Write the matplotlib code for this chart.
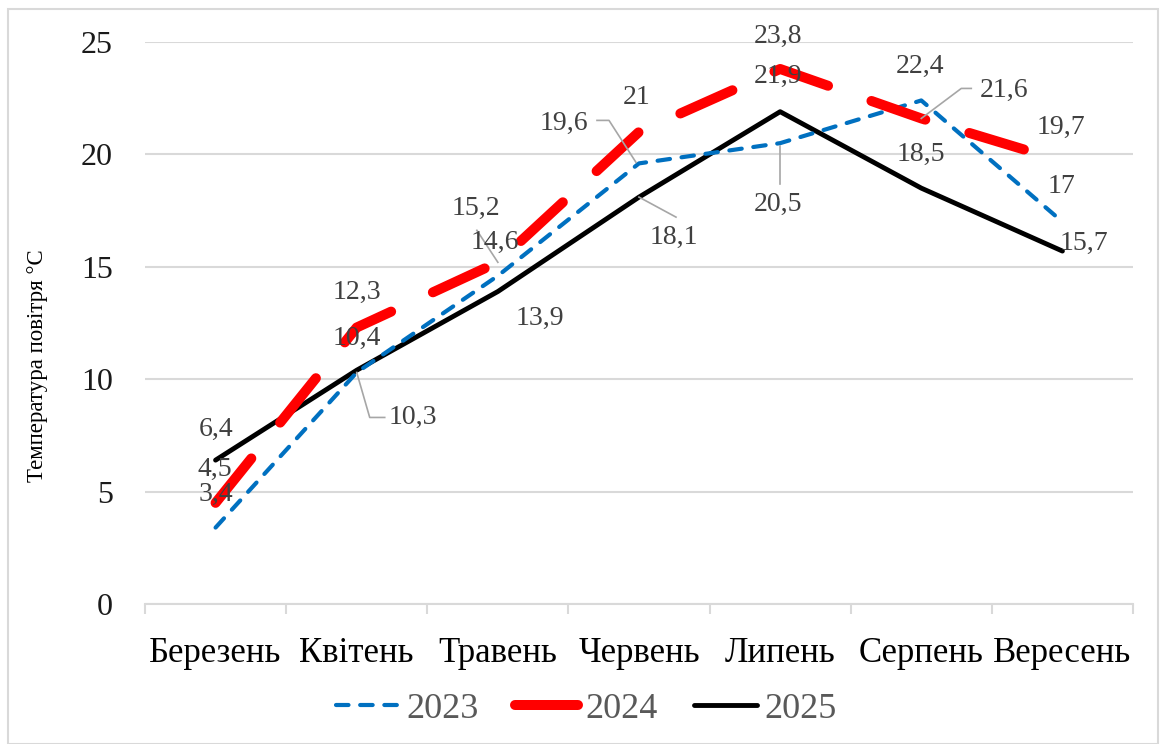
import matplotlib
matplotlib.use("Agg")
import matplotlib.pyplot as plt
from matplotlib.lines import Line2D
from matplotlib.patches import Rectangle
from matplotlib.transforms import IdentityTransform
import numpy as np

plt.rcParams['font.family'] = ['Liberation Serif', 'DejaVu Serif']

months = ["Березень", "Квітень", "Травень", "Червень", "Липень", "Серпень", "Вересень"]
series_names = ["2023", "2024", "2025"]
t2023 = [3.4, 10.3, 14.6, 19.6, 20.5, 22.4, 17]
t2024 = [4.5, 12.3, 15.2, 21, 23.8, 21.6, 19.7]
t2025 = [6.4, 10.4, 13.9, 18.1, 21.9, 18.5, 15.7]
y_ticks = [0, 5, 10, 15, 20, 25]
y_label = "Температура повітря °C"

def fmt(v):
    return ("%g" % v).replace(".", ",")

# label offsets in pixels (dx right, dy down) from data point
off2023 = [(0, -33), (56, 45), (-3, -33), (-75, -40), (-2, 61), (-1, -34), (-1, -35)]
off2024 = [(-1, -33), (0, -35), (-22, -54), (-2, -34), (-2, -33), (83, -28), (-2, -34)]
off2025 = [(0, -31), (0, -32), (42, 27), (35, 40), (-2, -35), (0, -34), (21, -8)]
# leader polylines (pixel offsets from data point), None if none
lead2023 = [None, [(0, 0), (13, 45), (28, 45)], None, [(-3, -1), (-30, -43), (-42, -43)],
            [(0, 3), (0, 41)], None, None]
lead2024 = [None, None, [(0, 0), (-21, -32)], None, None, [(0, 0), (40, -30), (50, -30)], None]
lead2025 = [None, None, None, [(0, 0), (37, 20)], None, None, None]

W, H = 1161, 744
fig = plt.figure(figsize=(W / 100, H / 100), dpi=100)
ax = fig.add_axes([145 / W, 1 - 604 / H, (1133 - 145) / W, (604 - 42) / H])

x = np.arange(len(months))
blue_style = dict(color="#0070C0", lw=3.0, linestyle=(0, (3, 2.8)), dash_capstyle="round")
l1, = ax.plot(x, t2023, label=series_names[0], zorder=3, **blue_style)
l2, = ax.plot(x, t2024, color="#FF0000", lw=7.2, linestyle=(0, (5.7, 4.6)),
              dash_capstyle="round", label=series_names[1], zorder=4)
l3, = ax.plot(x, t2025, color="#000000", lw=3.5, solid_capstyle="round",
              label=series_names[2], zorder=2)

ax.set_ylim(0, 25)
ax.set_xlim(-0.5, len(months) - 0.5)
ax.set_yticks(y_ticks)
ax.set_yticklabels([str(v) for v in y_ticks], fontsize=23, color="#1a1a1a")
ax.yaxis.grid(True, color="#d9d9d9", lw=1.5)
ax.set_axisbelow(True)
ax.tick_params(axis="y", length=0, pad=23)
ax.set_xticks(x)
ax.set_xticklabels(months, fontsize=25)
ax.tick_params(axis="x", which="major", length=0, pad=24)
ax.set_xticks(np.arange(-0.5, len(months), 1.0), minor=True)
ax.tick_params(axis="x", which="minor", length=7, width=1.5, color="#d9d9d9")
for s in ["left", "right", "top"]:
    ax.spines[s].set_visible(False)
ax.spines["bottom"].set_color("#d9d9d9")
ax.spines["bottom"].set_linewidth(1.5)

fig.text(38 / W, 1 - 366 / H, y_label, rotation=90, fontsize=16.5, ha="center", va="center")

fig.canvas.draw()
for vals, offs, leads in [(t2023, off2023, lead2023), (t2024, off2024, lead2024), (t2025, off2025, lead2025)]:
    for i, v in enumerate(vals):
        dx, dy = offs[i]
        ax.annotate(fmt(v), xy=(i, v), xytext=(dx, -dy), textcoords="offset pixels",
                    ha="center", va="center", fontsize=20, color="#404040", zorder=6)
        if leads[i] is not None:
            px, py = ax.transData.transform((i, v))
            xs = [px + a for a, b in leads[i]]
            ys = [py - b for a, b in leads[i]]
            ln = Line2D(xs, ys, transform=IdentityTransform(), color="#a6a6a6", lw=1.2, zorder=5)
            ln.set_clip_on(False)
            ax.add_artist(ln)

h1 = Line2D([], [], **blue_style)
h2 = Line2D([], [], color="#FF0000", lw=7.2, solid_capstyle="round")
h3 = Line2D([], [], color="#000000", lw=3.5, solid_capstyle="round")
leg = fig.legend(handles=[h1, h2, h3], labels=series_names, loc="center",
                 bbox_to_anchor=(0.5 + 6 / W, 1 - 709 / H), ncol=3, frameon=False, fontsize=26,
                 handlelength=1.75, columnspacing=1.0, handletextpad=0.2)
for t in leg.get_texts():
    t.set_color("#595959")

fig.patches.append(Rectangle((8 / W, 0), (1158 - 8) / W, 1 - 9 / H, transform=fig.transFigure,
                             fill=False, edgecolor="#d9d9d9", lw=1.5))

fig.savefig("out.png", dpi=100)
